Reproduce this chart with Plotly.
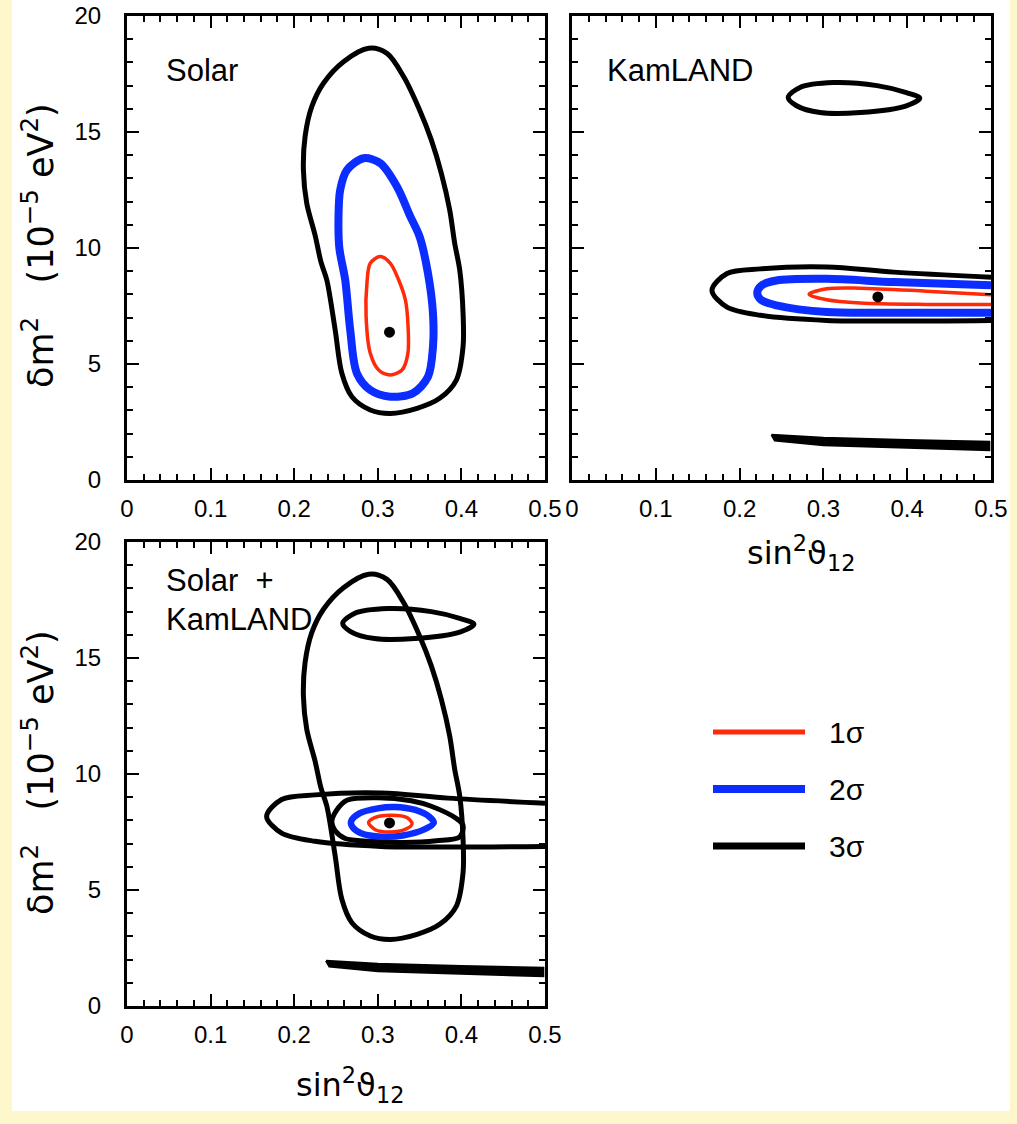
import plotly.graph_objects as go

# ---------------- data ----------------
# Solar-only allowed regions (sin^2 theta12, dm^2 in 1e-5 eV^2)
solar_3s_x = [0.289, 0.259, 0.235, 0.221, 0.213, 0.211, 0.215, 0.225, 0.232, 0.239, 0.249, 0.257, 0.269, 0.291,
              0.315, 0.347, 0.374, 0.394, 0.402, 0.402, 0.398, 0.392, 0.386, 0.376, 0.364, 0.350, 0.331, 0.311, 0.289]
solar_3s_y = [18.61, 18.03, 17.10, 16.09, 14.80, 13.36, 11.93, 10.55, 9.40, 8.62, 6.47, 4.60, 3.59, 3.02,
              2.87, 3.09, 3.52, 4.31, 5.75, 7.18, 9.05, 10.20, 11.64, 13.22, 14.66, 15.95, 17.38, 18.39, 18.61]

solar_2s_x = [0.283, 0.263, 0.255, 0.253, 0.254, 0.261, 0.267, 0.275, 0.291, 0.315, 0.342, 0.360, 0.366, 0.366,
              0.360, 0.350, 0.339, 0.323, 0.303, 0.283]
solar_2s_y = [13.87, 13.36, 12.50, 11.35, 10.00, 8.62, 6.47, 4.60, 3.88, 3.59, 3.74, 4.45, 5.75, 7.18,
              8.91, 10.49, 11.35, 12.64, 13.65, 13.87]

solar_1s_x = [0.303, 0.291, 0.287, 0.286, 0.291, 0.301, 0.315, 0.329, 0.336, 0.336, 0.333, 0.325, 0.315, 0.303]
solar_1s_y = [9.63, 9.34, 8.48, 7.04, 5.46, 4.74, 4.53, 4.74, 5.46, 6.76, 7.76, 8.62, 9.34, 9.63]

solar_best = ([0.314], [6.37])

# KamLAND-only allowed regions
kam_island_x = [0.258, 0.272, 0.312, 0.364, 0.399, 0.415, 0.399, 0.344, 0.296, 0.268, 0.258]
kam_island_y = [16.49, 16.92, 17.13, 17.00, 16.70, 16.46, 16.13, 15.84, 15.84, 16.13, 16.49]

kam_3s_x = [0.50, 0.384, 0.304, 0.225, 0.185, 0.167, 0.185, 0.225, 0.304, 0.384, 0.50]
kam_3s_y = [8.74, 8.96, 9.18, 9.10, 8.90, 8.17, 7.45, 7.10, 6.88, 6.85, 6.88]

kam_2s_x = [0.50, 0.384, 0.304, 0.244, 0.226, 0.221, 0.226, 0.244, 0.304, 0.384, 0.50]
kam_2s_y = [8.39, 8.53, 8.67, 8.60, 8.38, 8.06, 7.75, 7.53, 7.24, 7.21, 7.21]

kam_1s_x = [0.50, 0.423, 0.344, 0.304, 0.283, 0.304, 0.344, 0.423, 0.50]
kam_1s_y = [7.99, 8.14, 8.27, 8.24, 8.00, 7.77, 7.63, 7.57, 7.56]

kam_band_x = [0.238, 0.30, 0.40, 0.498, 0.498, 0.40, 0.30, 0.242, 0.238]
kam_band_y = [1.95, 1.82, 1.72, 1.65, 1.28, 1.38, 1.50, 1.70, 1.95]

kam_best = ([0.365], [7.89])

# Combined Solar + KamLAND
comb_3s_x = [0.245, 0.250, 0.263, 0.300, 0.340, 0.364, 0.394, 0.402, 0.398, 0.370, 0.330, 0.290, 0.261, 0.249, 0.245]
comb_3s_y = [7.94, 8.40, 8.87, 8.98, 8.85, 8.61, 8.08, 7.79, 7.29, 7.12, 7.05, 7.10, 7.22, 7.55, 7.94]

comb_2s_x = [0.268, 0.278, 0.300, 0.320, 0.345, 0.362, 0.367, 0.355, 0.330, 0.305, 0.280, 0.270, 0.268]
comb_2s_y = [7.95, 8.30, 8.52, 8.58, 8.45, 8.15, 7.90, 7.60, 7.35, 7.30, 7.45, 7.70, 7.95]

comb_1s_x = [0.289, 0.295, 0.315, 0.335, 0.341, 0.332, 0.315, 0.297, 0.289]
comb_1s_y = [7.90, 8.10, 8.22, 8.12, 7.85, 7.60, 7.50, 7.60, 7.90]

comb_best = ([0.314], [7.89])

# Legend
legend_labels = ["1σ", "2σ", "3σ"]
legend_rows = [0, 1, 2]
legend_span = [0, 1]

x_ticks = [0, 0.1, 0.2, 0.3, 0.4, 0.5]
y_ticks = [0, 5, 10, 15, 20]

# ---------------- styling ----------------
W, H = 1017, 1124
YELLOW = "#FFF7CC"
RED = "#FF2A0A"
BLUE = "#0B2DFF"
BLACK = "#000000"
FONT = "Liberation Sans"
TFONT = "DejaVu Sans"


def dx(a, b):
    return [a / W, b / W]


def dy(top, bottom):
    return [1 - bottom / H, 1 - top / H]


def px(x):
    return x / W


def py(y):
    return 1 - y / H


fig = go.Figure()


def curve(x, y, color, width, xa, ya, spline=True):
    fig.add_trace(go.Scatter(
        x=x, y=y, mode="lines",
        line=dict(color=color, width=width, shape="spline" if spline else "linear", smoothing=0.9),
        xaxis=xa, yaxis=ya, showlegend=False, hoverinfo="skip"))


def band(x, y, xa, ya):
    fig.add_trace(go.Scatter(
        x=x, y=y, mode="lines", fill="toself", fillcolor=BLACK,
        line=dict(color=BLACK, width=2), xaxis=xa, yaxis=ya, showlegend=False, hoverinfo="skip"))


def best(pt, xa, ya):
    fig.add_trace(go.Scatter(
        x=pt[0], y=pt[1], mode="markers",
        marker=dict(symbol="circle", size=11, color=BLACK),
        xaxis=xa, yaxis=ya, showlegend=False, hoverinfo="skip"))


# Panel 1: Solar
curve(solar_3s_x, solar_3s_y, BLACK, 5, "x", "y")
curve(solar_2s_x, solar_2s_y, BLUE, 8, "x", "y")
curve(solar_1s_x, solar_1s_y, RED, 3.5, "x", "y")
best(solar_best, "x", "y")

# Panel 2: KamLAND
curve(kam_island_x, kam_island_y, BLACK, 5, "x2", "y2")
curve(kam_3s_x, kam_3s_y, BLACK, 5, "x2", "y2")
curve(kam_2s_x, kam_2s_y, BLUE, 8, "x2", "y2")
curve(kam_1s_x, kam_1s_y, RED, 3.5, "x2", "y2")
band(kam_band_x, kam_band_y, "x2", "y2")
best(kam_best, "x2", "y2")

# Panel 3: Solar + KamLAND
curve(solar_3s_x, solar_3s_y, BLACK, 5, "x3", "y3")
curve(kam_island_x, kam_island_y, BLACK, 5, "x3", "y3")
curve(kam_3s_x, kam_3s_y, BLACK, 5, "x3", "y3")
band(kam_band_x, kam_band_y, "x3", "y3")
curve(comb_3s_x, comb_3s_y, BLACK, 5, "x3", "y3")
curve(comb_2s_x, comb_2s_y, BLUE, 6.5, "x3", "y3")
curve(comb_1s_x, comb_1s_y, RED, 3.5, "x3", "y3")
best(comb_best, "x3", "y3")

# Legend drawn on a hidden axis
legend_colors = [RED, BLUE, BLACK]
legend_widths = [5, 8, 7]
for row, col, wid in zip(legend_rows, legend_colors, legend_widths):
    fig.add_trace(go.Scatter(x=legend_span, y=[row, row], mode="lines",
                             line=dict(color=col, width=wid), xaxis="x4", yaxis="y4",
                             showlegend=False, hoverinfo="skip"))

tickfont = dict(family=FONT, size=24, color="black")


def xax(domain, show=True):
    return dict(domain=domain, range=[0, 0.5], tickvals=x_ticks, ticktext=[("%g" % v) for v in x_ticks],
                showline=True, linewidth=3, linecolor="black", mirror="allticks",
                ticks="inside", ticklen=12, tickwidth=2, tickcolor="black",
                minor=dict(dtick=0.02, tick0=0, ticks="inside", ticklen=6, tickwidth=1.5, tickcolor="black"),
                showgrid=False, zeroline=False, showticklabels=show, tickfont=tickfont,
                ticklabelstandoff=5, fixedrange=True, automargin=False)


def yax(domain, show=True):
    return dict(domain=domain, range=[0, 20], tickvals=y_ticks, ticktext=[str(v) for v in y_ticks],
                showline=True, linewidth=3, linecolor="black", mirror="allticks",
                ticks="inside", ticklen=12, tickwidth=2, tickcolor="black",
                minor=dict(dtick=1, tick0=0, ticks="inside", ticklen=6, tickwidth=1.5, tickcolor="black"),
                showgrid=False, zeroline=False, showticklabels=show, tickfont=tickfont,
                ticklabelstandoff=18, fixedrange=True, automargin=False)


x1d, y1d = dx(127, 545), dy(16, 480)
x2d, y2d = dx(572, 991), dy(16, 480)
x3d, y3d = dx(127, 545), dy(542, 1006)

fig.update_layout(
    width=W, height=H,
    margin=dict(l=0, r=0, t=0, b=0, pad=0, autoexpand=False),
    paper_bgcolor=YELLOW, plot_bgcolor="white",
    xaxis=dict(**xax(x1d), anchor="y"),
    yaxis=dict(**yax(y1d), anchor="x"),
    xaxis2=dict(**xax(x2d), anchor="y2"),
    yaxis2=dict(**yax(y2d, show=False), anchor="x2"),
    xaxis3=dict(**xax(x3d), anchor="y3"),
    yaxis3=dict(**yax(y3d), anchor="x3"),
    xaxis4=dict(domain=dx(713, 805), range=[0, 1], visible=False, anchor="y4", fixedrange=True,
                automargin=False),
    yaxis4=dict(domain=dy(703.5, 874.5), range=[2.5, -0.5], visible=False, anchor="x4", fixedrange=True,
                automargin=False),
    showlegend=False,
    shapes=[dict(type="rect", xref="paper", yref="paper", x0=px(12), x1=px(1010), y0=py(1111), y1=1.02,
                 fillcolor="white", line=dict(width=0), layer="below")],
)

ann = []
lab_font = dict(family=FONT, size=31, color="black")
ann.append(dict(text="Solar", x=px(164), y=py(71), xref="paper", yref="paper", xanchor="left",
                yanchor="middle", showarrow=False, font=lab_font))
ann.append(dict(text="KamLAND", x=px(605), y=py(71), xref="paper", yref="paper", xanchor="left",
                yanchor="middle", showarrow=False, font=lab_font))
ann.append(dict(text="Solar\u00a0\u00a0+", x=px(164), y=py(580), xref="paper", yref="paper", xanchor="left",
                yanchor="middle", showarrow=False, font=lab_font))
ann.append(dict(text="KamLAND", x=px(164), y=py(619), xref="paper", yref="paper", xanchor="left",
                yanchor="middle", showarrow=False, font=lab_font))

ytitle = "δm<sup>2</sup>\u00a0\u00a0\u00a0(10<sup>−5</sup>\u00a0eV<sup>2</sup>)"
title_font = dict(family=TFONT, size=35, color="black")
for yc in (246, 773):
    ann.append(dict(text=ytitle, x=px(38), y=py(yc), xref="paper", yref="paper", textangle=-90,
                    xanchor="center", yanchor="middle", showarrow=False, font=title_font))

xtitle = "sin<sup>2</sup>ϑ<sub>12</sub>"
for xc, yc in ((801, 553), (350, 1085)):
    ann.append(dict(text=xtitle, x=px(xc), y=py(yc), xref="paper", yref="paper",
                    xanchor="center", yanchor="middle", showarrow=False,
                    font=dict(family=TFONT, size=32, color="black")))

for row, lab in zip(legend_rows, legend_labels):
    ann.append(dict(text=lab, x=1, y=row, xref="x4", yref="y4", xanchor="left", yanchor="middle",
                    xshift=22, showarrow=False, font=dict(family=FONT, size=30, color="black")))

fig.update_layout(annotations=ann)

fig.write_html("out.html")
